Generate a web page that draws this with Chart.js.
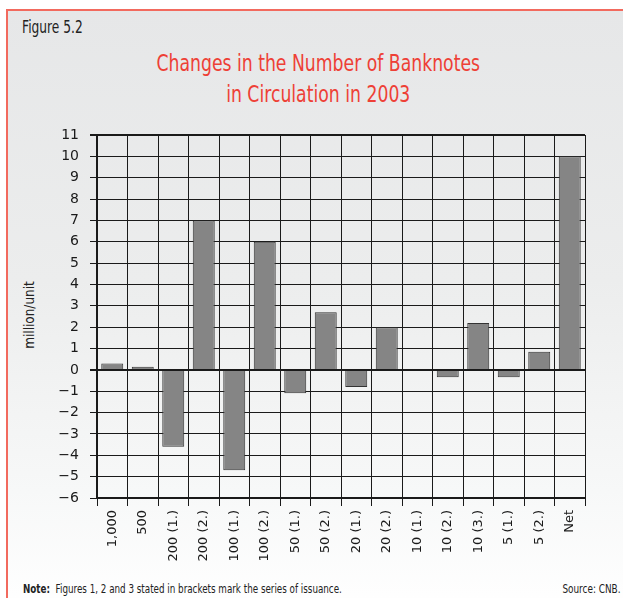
<!DOCTYPE html>
<html>
<head>
<meta charset="utf-8">
<script src="https://cdn.jsdelivr.net/npm/chart.js@4"></script>
<style>
  html, body { margin: 0; padding: 0; }
  body { width: 623px; height: 598px; position: relative; overflow: hidden; background: #fff;
         font-family: "DejaVu Sans", sans-serif; }
  #frame { position: absolute; left: 6px; top: 9px; width: 620px; height: 600px;
           border-left: 2px solid #f26a5e; border-top: 2px solid #f26a5e;
           background: linear-gradient(to bottom, #e6e7e8 0%, #eceded 45%, #f7f8f8 80%, #ffffff 100%); }
  .txt { position: absolute; white-space: nowrap; color: #222; }
  #fig { left: 22px; top: 17px; font-size: 17px; transform: scaleX(0.72); transform-origin: left top; }
  #title { left: 0; width: 636px; top: 48px; text-align: center; color: #ee4036;
           font-size: 23px; line-height: 31px; transform: scaleX(0.75); transform-origin: 319px 0; }
  #ytitle { left: 29px; top: 315px; font-size: 14px;
            transform: translate(-50%, -50%) rotate(-90deg) scaleX(0.86); }
  #note { left: 23px; top: 582px; font-size: 12px; transform: scaleX(0.73); transform-origin: left top; }
  #source { right: 3px; top: 582px; font-size: 12px; transform: scaleX(0.74); transform-origin: right top; }
  #chartBox { position: absolute; left: 0; top: 0; width: 623px; height: 598px; }
</style>
</head>
<body>
<div id="frame"></div>
<div id="fig" class="txt">Figure 5.2</div>
<div id="title" class="txt">Changes in the Number of Banknotes<br>in Circulation in 2003</div>
<div id="ytitle" class="txt">million/unit</div>
<div id="note" class="txt"><b>Note:</b>&nbsp; Figures 1, 2 and 3 stated in brackets mark the series of issuance.</div>
<div id="source" class="txt">Source: CNB.</div>
<div id="chartBox"><canvas id="chart"></canvas></div>
<script>
// banknote denominations (series in brackets)
const categories = ['1,000', '500', '200 (1.)', '200 (2.)', '100 (1.)', '100 (2.)', '50 (1.)', '50 (2.)',
                    '20 (1.)', '20 (2.)', '10 (1.)', '10 (2.)', '10 (3.)', '5 (1.)', '5 (2.)', 'Net'];
// change in millions of pieces
const changes = [0.3, 0.15, -3.6, 7.0, -4.7, 6.0, -1.1, 2.7, -0.8, 2.0, 0, -0.35, 2.2, -0.35, 0.85, 10.0];
const yMin = -6;
const yMax = 11;

const FONT = '"DejaVu Sans", sans-serif';
const INK = '#1a1a1a';

new Chart(document.getElementById('chart'), {
  type: 'bar',
  data: {
    labels: categories,
    datasets: [{
      data: changes,
      backgroundColor: '#858585',
      borderColor: '#333333',
      borderWidth: 1,
      categoryPercentage: 1,
      barPercentage: 0.72
    }]
  },
  options: {
    responsive: true,
    maintainAspectRatio: false,
    animation: false,
    layout: { padding: { left: 0, right: 38, top: 135, bottom: 0 } },
    plugins: { legend: { display: false }, tooltip: { enabled: false } },
    scales: {
      x: {
        afterFit: (scale) => { scale.height = 100; },
        grid: { color: INK, lineWidth: 1, tickLength: 8, offset: true },
        border: { display: true, color: INK, width: 2 },
        ticks: {
          color: INK, font: { family: FONT, size: 13 },
          maxRotation: 90, minRotation: 90, autoSkip: false, padding: 4
        }
      },
      y: {
        min: yMin,
        max: yMax,
        afterFit: (scale) => { scale.width = 97; },
        grid: {
          color: INK,
          tickLength: 7,
          lineWidth: (ctx) => (ctx.tick && (ctx.tick.value === 0 || ctx.tick.value === yMax)) ? 2 : 1
        },
        border: { display: true, color: INK, width: 2 },
        ticks: {
          stepSize: 1, color: INK, padding: 11,
          font: { family: FONT, size: 14 },
          callback: (v) => v < 0 ? '\u2212' + Math.abs(v) : String(v)
        }
      }
    }
  }
});
</script>
</body>
</html>
